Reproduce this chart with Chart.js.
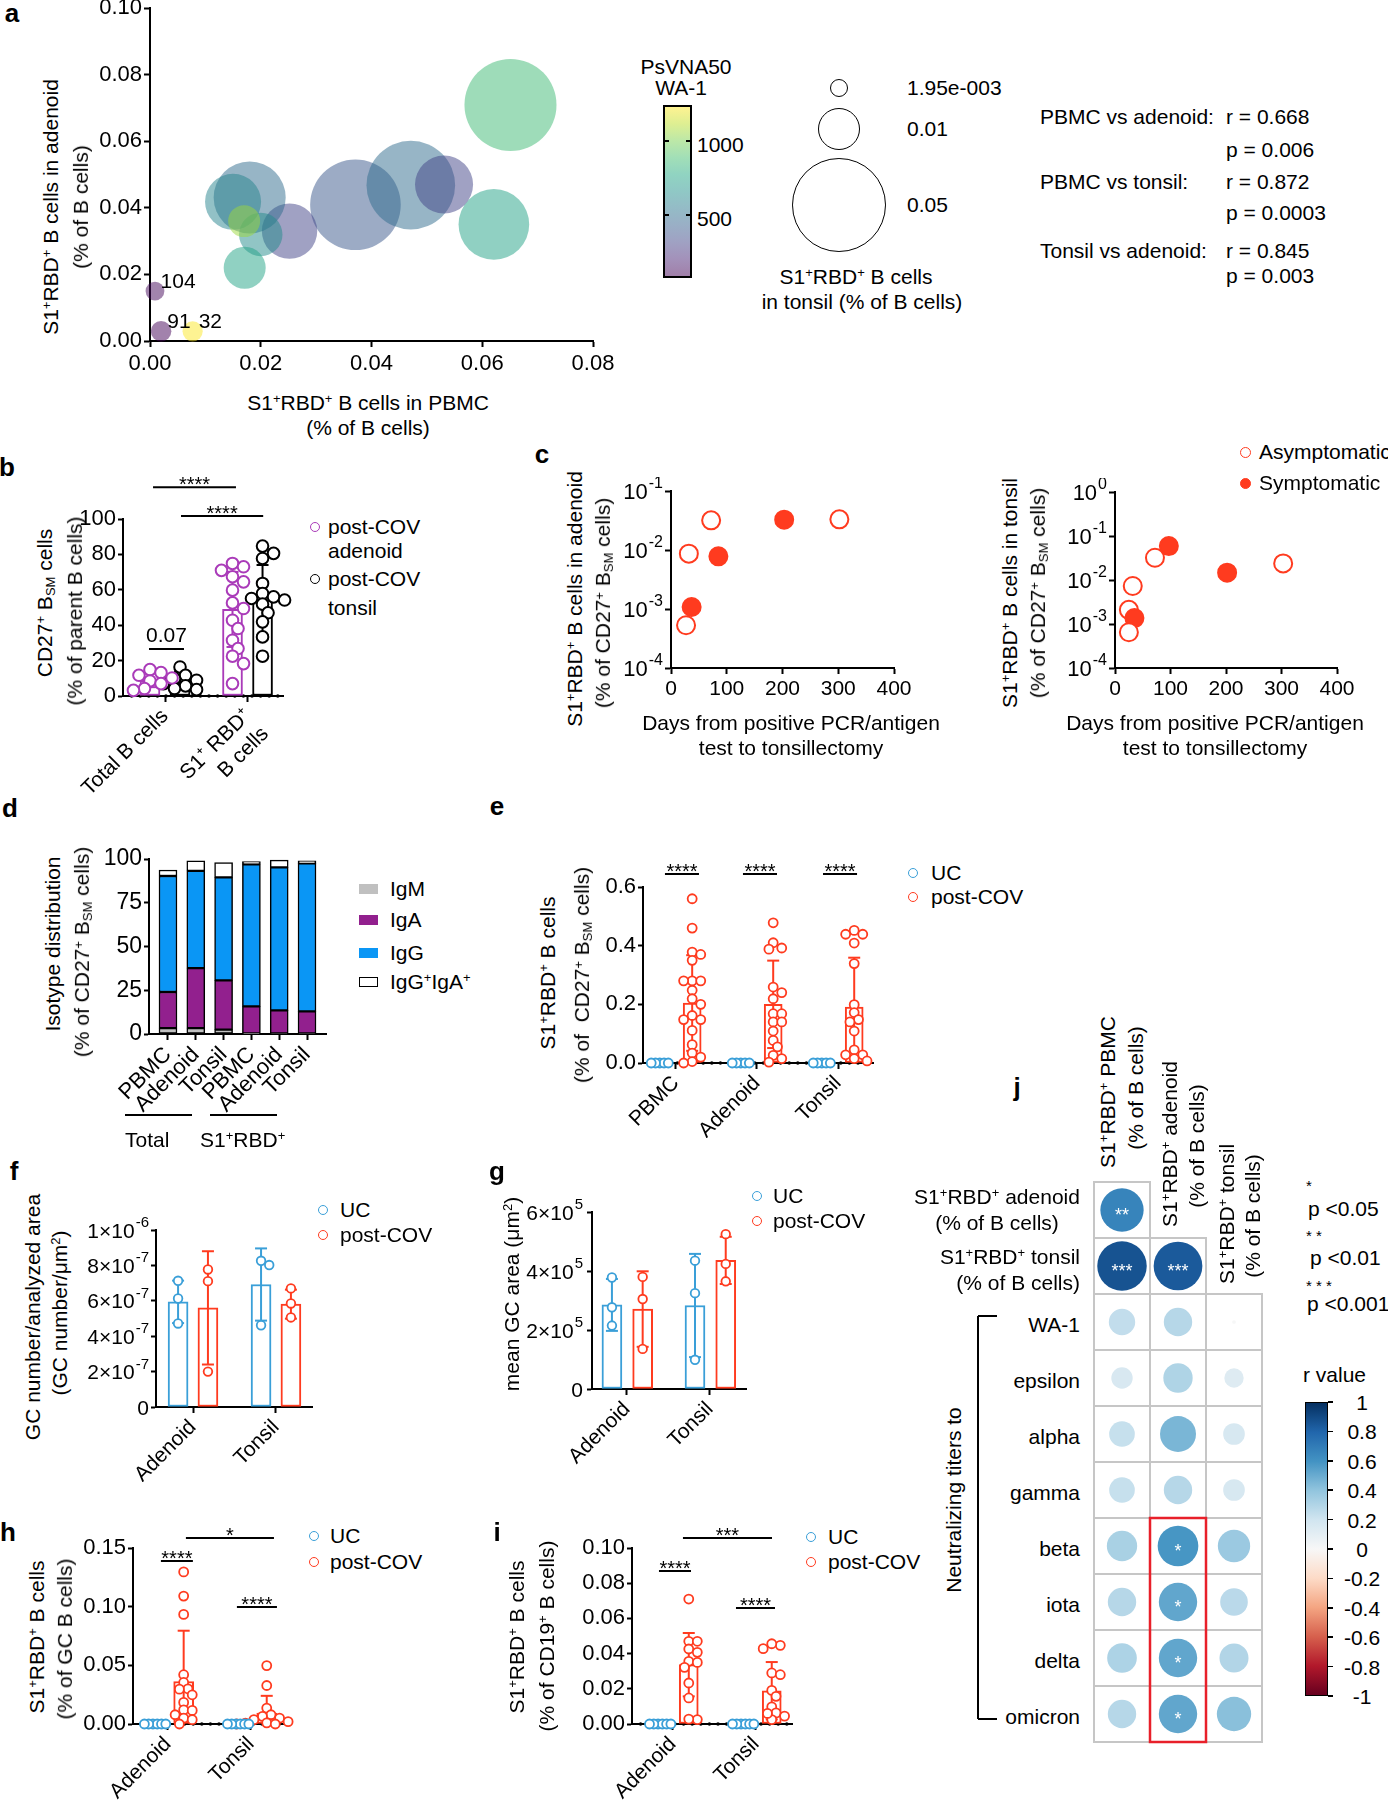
<!DOCTYPE html>
<html><head><meta charset="utf-8"><title>Figure</title>
<script src="https://cdn.jsdelivr.net/npm/chart.js@4.4.1/dist/chart.umd.min.js"></script>
<style>
html,body{margin:0;padding:0;background:#fff;}
#root{position:relative;width:1388px;height:1800px;overflow:hidden;background:#fff;font-family:"Liberation Sans",Arial,Helvetica,sans-serif;color:#000;}
#root canvas{position:absolute;}
.t{position:absolute;white-space:nowrap;line-height:1.15;}
.t sup{font-size:0.62em;vertical-align:0.5em;line-height:0;}
.t sub{font-size:0.62em;vertical-align:-0.25em;line-height:0;}
</style></head>
<body><div id="root"></div>
<script>
// ================= DATA =================
// Panel a
const aPbmc     = [0.0651,0.0621,0.0371,0.0471,0.0531,0.0252,0.0180,0.0150,0.0200,0.0170,0.0171,0.0009,0.0020,0.0077];
const aAdenoid  = [0.0709,0.0350,0.0409,0.0468,0.0470,0.0330,0.0431,0.0418,0.0320,0.0360,0.0220,0.0150,0.0029,0.0029];
const aTonsil   = [0.0480,0.0283,0.0465,0.0445,0.0191,0.0174,0.0294,0.0178,0.0107,0.0058,0.0100,0.0020,0.0024,0.0023];
const aTiterWA1 = [869,740,390,483,308,308,483,600,635,1068,752,104,91,1240];
const aPointLabels = ['','','','','','','','','','','','104','91','32'];
const aTicksX = [0,0.02,0.04,0.06,0.08];
const aTicksY = [0,0.02,0.04,0.06,0.08,0.10];
const aTiterRange = [74,1243];
const aTiterTicks = [500,1000];
const aSizeLegend = [0.00195,0.01,0.05];
const aSizeLegendLabels = ['1.95e-003','0.01','0.05'];
const corrPairs = ['PBMC vs adenoid:','PBMC vs tonsil:','Tonsil vs adenoid:'];
const corrR = ['0.668','0.872','0.845'];
const corrP = ['0.006','0.0003','0.003'];

// Panel b
const bCats = ['Total B cells',['S1\u207A RBD\u207A','B cells']];
const bAdenoidPts = [[14.9,13.2,11.7,10.2,8.5,7.0,4.2,3.2],[74.9,73,71,67.4,64.5,59.8,52.6,49.4,42.8,38.1,31.5,26.8,22.5,18.3,7]];
const bTonsilPts  = [[16.4,11.7,9.8,8.9,7.0,5.7,4.2,3.6],[84.7,80.6,77.7,63.6,57.9,56,55.1,54.2,51.9,47,41.9,33.4,22.5]];
const bAdenoidMean = [8.9,48.9], bAdenoidSD = [3.9,21.2];
const bTonsilMean  = [9.8,54.2], bTonsilSD  = [4.0,19.8];
const bTicksY = [0,20,40,60,80,100];

// Panel c
const cAdDays = [72,32,85,37,27,203,302];
const cAdVal  = [0.0318,0.00867,0.0078,0.00108,0.00053,0.0327,0.0331];
const cAdSym  = [0,0,1,1,0,1,0];
const cToDays = [97,72,303,202,32,25,35,25];
const cToVal  = [0.0589,0.032,0.0238,0.0147,0.0073,0.0021,0.00136,0.00065];
const cToSym  = [1,0,0,1,0,0,1,0];
const cTicksX = [0,100,200,300,400];
const cTicksAd = [1e-4,1e-3,1e-2,1e-1];
const cTicksTo = [1e-4,1e-3,1e-2,1e-1,1];

// Panel d
const dCats = ['PBMC','Adenoid','Tonsil','PBMC','Adenoid','Tonsil'];
const dIgM    = [3.4,3.4,2.5,0.4,0.3,0.3];
const dIgA    = [20.6,34.2,28.1,15.4,13.2,12.6];
const dIgG    = [66.3,55.6,58.9,81.2,81.7,84.6];
const dIgGIgA = [3.4,5.7,8.4,1.5,4.2,1.5];
const dTicksY = [0,25,50,75,100];

// Panel e
const eCats = ['PBMC','Adenoid','Tonsil'];
const eUC  = [[0,0,0,0,0],[0,0,0,0,0],[0,0,0,0,0]];
const eCov = [[0.56,0.46,0.378,0.37,0.35,0.28,0.28,0.28,0.248,0.219,0.2,0.162,0.148,0.148,0.111,0.0625,0.034,0.02,0.005,0.0],
              [0.478,0.41,0.392,0.388,0.259,0.24,0.219,0.168,0.168,0.14,0.14,0.109,0.077,0.055,0.026,0.015,0.003],
              [0.452,0.439,0.439,0.409,0.339,0.199,0.172,0.148,0.14,0.109,0.045,0.028,0.028,0.015,0.007]];
const eCovMean = [0.2045,0.2,0.191], eCovSD = [0.163,0.149,0.168];
const eTicksY = [0,0.2,0.4,0.6];

// Panel f
const fgCats = ['Adenoid','Tonsil'];
const fUC  = [[7.13e-7,6.13e-7,4.72e-7],[8.26e-7,8.02e-7,4.62e-7]];
const fCov = [[7.77e-7,7.11e-7,2.0e-7],[6.7e-7,5.85e-7,5.06e-7]];
const fUCMean = [5.94e-7,6.92e-7], fUCSD = [1.2e-7,2.04e-7];
const fCovMean = [5.6e-7,5.81e-7], fCovSD = [3.2e-7,0.82e-7];
const fTicksY = [0,2e-7,4e-7,6e-7,8e-7,1e-6];

// Panel g
const gUC  = [[3.78e5,2.77e5,2.15e5],[4.35e5,3.25e5,0.99e5]];
const gCov = [[3.8e5,3.05e5,1.36e5],[5.25e5,4.24e5,3.65e5]];
const gUCMean = [2.85e5,2.83e5], gUCSD = [0.88e5,1.75e5];
const gCovMean = [2.71e5,4.36e5], gCovSD = [1.28e5,0.8e5];
const gTicksY = [0,2e5,4e5,6e5];

// Panel h
const hUC  = [[0,0,0,0,0,0],[0,0,0,0,0,0]];
const hCov = [[0.1296,0.109,0.0934,0.042,0.0354,0.03,0.0297,0.0249,0.0184,0.012,0.0116,0.0079,0.005,0.0037,0.0],
              [0.0498,0.0328,0.0136,0.0079,0.0065,0.005,0.0037,0.002,0.001,0.0008,0,0,0]];
const hCovMean = [0.0362,0.0093], hCovSD = [0.0433,0.0147];
const hTicksY = [0,0.05,0.10,0.15];

// Panel i
const iUC  = [[0,0,0,0,0,0],[0,0,0,0,0,0]];
const iCov = [[0.071,0.047,0.047,0.0426,0.0407,0.0356,0.035,0.0322,0.0233,0.0148,0.0025,0.0028],
              [0.0447,0.0456,0.0428,0.029,0.028,0.0191,0.0157,0.0097,0.0063,0.0025,0.0045,0.006]];
const iCovMean = [0.0337,0.0189], iCovSD = [0.018,0.0163];
const iTicksY = [0,0.02,0.04,0.06,0.08,0.10];

// Panel j
const jRowsTop = [['S1<sup>+</sup>RBD<sup>+</sup> adenoid','(% of B cells)'],['S1<sup>+</sup>RBD<sup>+</sup> tonsil','(% of B cells)']];
const jVariants = ['WA-1','epsilon','alpha','gamma','beta','iota','delta','omicron'];
const jCols = ['S1<sup>+</sup>RBD<sup>+</sup> PBMC','S1<sup>+</sup>RBD<sup>+</sup> adenoid','S1<sup>+</sup>RBD<sup>+</sup> tonsil'];
const jPbmc    = [0.668,0.872,0.248,0.163,0.234,0.234,0.328,0.287,0.313,0.287];
const jAdenoid = [null,0.845,0.287,0.307,0.461,0.287,0.589,0.524,0.524,0.524];
const jTonsil  = [null,null,0.005,0.134,0.167,0.167,0.372,0.272,0.300,0.420];
const jStarsPbmc    = ['**','***','','','','','','','',''];
const jStarsAdenoid = ['','***','','','','','*','*','*','*'];
const jStarsTonsil  = ['','','','','','','','','',''];
const jBarTicks = [1,0.8,0.6,0.4,0.2,0,-0.2,-0.4,-0.6,-0.8,-1];

// ================= STYLE / HELPERS =================
const FONT='"Liberation Sans", Arial, Helvetica, sans-serif';
Chart.defaults.font.family=FONT;
Chart.defaults.color='#000';
const RED='#ff3b1f', BLUE='#3a9fd8', PURPLE='#aa3bb9';
const SIZE_K=210;
const root=document.getElementById('root');

const VIR=[[68,1,84],[72,36,117],[65,68,135],[53,95,141],[42,120,142],[33,145,140],[34,168,132],[68,191,112],[122,209,81],[189,223,38],[253,231,37]];
const RDBU=[[103,0,31],[178,24,43],[214,96,77],[244,165,130],[253,219,199],[247,247,247],[209,229,240],[146,197,222],[67,147,195],[33,102,172],[5,48,97]];
function interp(stops,t){t=Math.max(0,Math.min(1,t));const p=t*(stops.length-1),i=Math.min(stops.length-2,Math.floor(p)),f=p-i;return stops[i].map((x,k)=>Math.round(x+(stops[i+1][k]-x)*f));}
function viridis(v,a){const c=interp(VIR,(v-aTiterRange[0])/(aTiterRange[1]-aTiterRange[0]));return 'rgba('+c.join(',')+','+a+')';}
function rdbu(r){return 'rgb('+interp(RDBU,(r+1)/2).join(',')+')';}

function mkCanvas(L,T,R,B,pl,pt,pr,pb){
  const c=document.createElement('canvas');
  const w=Math.round((R-L)+pl+pr), h=Math.round((B-T)+pt+pb);
  c.width=w;c.height=h;c.style.left=(L-pl)+'px';c.style.top=(T-pt)+'px';c.style.width=w+'px';c.style.height=h+'px';
  root.appendChild(c);return c;
}
function zeroPad(s){s.paddingLeft=0;s.paddingRight=0;s.paddingTop=0;s.paddingBottom=0;}
function fitX(h){return s=>{s.height=h;zeroPad(s);};}
function fitY(w){return s=>{s.width=w;zeroPad(s);};}
function axis(o){
  return {type:o.type||'linear',position:o.pos,min:o.min,max:o.max,offset:false,reverse:!!o.reverse,stacked:!!o.stacked,
    afterFit:o.pos==='bottom'?fitX(o.size):fitY(o.size),
    afterBuildTicks:s=>{s.ticks=o.ticks.map(v=>({value:v}));},
    border:{display:true,color:'#000',width:2},
    grid:{display:true,offset:false,drawOnChartArea:false,drawTicks:true,tickLength:o.tl||6,tickColor:'#000',tickWidth:2,color:'#000'},
    ticks:{display:true,autoSkip:false,minRotation:o.rot||0,maxRotation:o.rot||0,padding:(o.pad===undefined?3:o.pad),color:'#000',
      font:{size:o.fs||21,family:FONT},callback:o.fmt||(v=>String(v))}
  };
}
function baseOpts(pad,scales,plugins){
  return {responsive:false,animation:false,events:[],maintainAspectRatio:false,
    layout:{padding:pad,autoPadding:false},
    plugins:Object.assign({legend:{display:false},tooltip:{enabled:false}},plugins||{}),
    scales:scales};
}
function swarm(vals,pxPerVal,r,unitPx,tight){
  const placed=[],offs=vals.map(()=>0);
  const idx=vals.map((v,i)=>i).sort((a,b)=>vals[b]-vals[a]);
  const step=r*0.95,minD=2*r*tight;
  idx.forEach(i=>{
    const y=vals[i]*pxPerVal;
    for(let k=0;k<40;k++){
      const dx=k===0?0:Math.ceil(k/2)*step*(k%2?1:-1);
      if(placed.every(p=>Math.hypot(p.x-dx,p.y-y)>=minD)){offs[i]=dx/unitPx;placed.push({x:dx,y:y});return;}
    }
    placed.push({x:0,y:y});
  });
  return offs;
}

// ---- plugins ----
const errPlugin={id:'err',afterDatasetDraw(chart,args){
  const ds=chart.data.datasets[args.index]; if(!ds.sd) return;
  const ys=chart.scales.y, ctx=chart.ctx; ctx.save(); ctx.strokeStyle=ds.borderColor; ctx.lineWidth=2;
  args.meta.data.forEach((el,i)=>{const m=ds.data[i].y,s=ds.sd[i]; if(!s) return;
    const yt=ys.getPixelForValue(m+s), lo=m-s, yb=ys.getPixelForValue(Math.max(ys.min,lo));
    ctx.beginPath();ctx.moveTo(el.x,yb);ctx.lineTo(el.x,yt);ctx.stroke();
    ctx.beginPath();ctx.moveTo(el.x-6,yt);ctx.lineTo(el.x+6,yt);ctx.stroke();
    if(lo>ys.min){ctx.beginPath();ctx.moveTo(el.x-6,yb);ctx.lineTo(el.x+6,yb);ctx.stroke();}
  }); ctx.restore();}};
const sigPlugin={id:'sig',afterDraw(chart,args,opts){
  if(!opts||!opts.items) return; const ctx=chart.ctx,xs=chart.scales.x,ys=chart.scales.y;
  ctx.save();ctx.strokeStyle='#000';ctx.fillStyle='#000';ctx.lineWidth=2;ctx.textAlign='center';ctx.textBaseline='alphabetic';
  opts.items.forEach(it=>{const x1=xs.getPixelForValue(it.x1),x2=xs.getPixelForValue(it.x2),y=ys.getPixelForValue(it.y);
    ctx.beginPath();ctx.moveTo(x1,y);ctx.lineTo(x2,y);ctx.stroke();
    ctx.font=(it.size||20)+'px '+FONT; ctx.fillText(it.text,(x1+x2)/2,y-(it.gap===undefined?-4:it.gap));});
  ctx.restore();}};
const dotsPlugin={id:'dots',beforeDatasetsDraw(chart,args,opts){
  if(!opts||!opts.on) return; const ctx=chart.ctx,a=chart.chartArea,y=chart.scales.y.getPixelForValue(0);
  ctx.save();ctx.fillStyle='#000';for(let x=a.left+opts.step;x<=a.right+0.5;x+=opts.step){ctx.beginPath();ctx.arc(x,y,1.8,0,7);ctx.fill();}ctx.restore();}};
const supPlugin={id:'sup',afterDraw(chart,args,opts){
  if(!opts||!opts.fmt) return; const ys=chart.scales.y,ctx=chart.ctx,fs=opts.size||21,es=opts.esize||15;
  const xr=chart.chartArea.left-(opts.pad||8); ctx.save();ctx.fillStyle='#000';ctx.textBaseline='alphabetic';ctx.textAlign='left';
  ys.ticks.forEach(t=>{const y=ys.getPixelForValue(t.value);const pr=opts.fmt(t.value);
    ctx.font=es+'px '+FONT;const ew=pr[1]?ctx.measureText(pr[1]).width+1:0;
    ctx.font=fs+'px '+FONT;const bw=ctx.measureText(pr[0]).width;const x0=xr-ew-bw;
    ctx.fillText(pr[0],x0,y+fs*0.36);
    if(pr[1]){ctx.font=es+'px '+FONT;ctx.fillText(pr[1],x0+bw+1,y+fs*0.36-fs*0.5);}});
  ctx.restore();}};
Chart.register(errPlugin,sigPlugin,dotsPlugin,supPlugin);

// ---- HTML helpers ----
function T(x,y,html,o){o=o||{};const d=document.createElement('div');d.className='t';d.innerHTML=html;
  d.style.left=x+'px';d.style.top=y+'px';d.style.fontSize=(o.size||21)+'px';
  if(o.bold) d.style.fontWeight='bold'; if(o.color) d.style.color=o.color;
  const al=o.align||'left';const tx=al==='left'?'0%':(al==='center'?'-50%':'-100%');
  d.style.transform='translate('+tx+',-50%)'+(o.rot?' rotate('+o.rot+'deg)':'');
  root.appendChild(d);return d;}
function box(x,y,w,h,style){const d=document.createElement('div');d.style.cssText='position:absolute;box-sizing:border-box;left:'+x+'px;top:'+y+'px;width:'+w+'px;height:'+h+'px;'+style;root.appendChild(d);return d;}
function circ(cx,cy,r,style){return box(cx-r,cy-r,2*r,2*r,'border-radius:50%;'+style);}
function hline(x1,x2,y,w,c){box(x1,y-w/2,x2-x1,w,'background:'+(c||'#000'));}
function vline(x,y1,y2,w,c){box(x-w/2,y1,w,y2-y1,'background:'+(c||'#000'));}

// ---- generic dot + bar panel ----
function dotBar(o){
  const cv=mkCanvas(o.L,o.T,o.R,o.B,o.pl,o.pt,o.pr,o.pb);
  const unitPx=(o.R-o.L)/(o.xmax-o.xmin), pxPerVal=(o.B-o.T)/(o.ymax-o.ymin);
  const ds=[];
  o.series.forEach(s=>{
    ds.push({type:'bar',data:s.mean.map((m,i)=>({x:i+s.off,y:m})),sd:s.sd,backgroundColor:'#fff',borderColor:s.color,borderWidth:2,
      borderSkipped:false,barThickness:o.bw,grouped:false,order:3,clip:false});
    const pts=[];
    s.points.forEach((arr,i)=>{const offs=swarm(arr,pxPerVal,s.r,unitPx,s.tight||0.8);arr.forEach((v,k)=>pts.push({x:i+s.off+offs[k],y:v}));});
    ds.push({type:'scatter',data:pts,pointRadius:s.r,pointHoverRadius:s.r,pointBorderColor:s.color,pointBackgroundColor:'#fff',
      pointBorderWidth:s.pw||1.8,order:1,clip:false});
  });
  return new Chart(cv,{type:'bar',data:{datasets:ds},options:baseOpts({left:0,top:o.pt,right:o.pr,bottom:0},{
    x:axis({pos:'bottom',min:o.xmin,max:o.xmax,ticks:o.cats.map((c,i)=>i),fmt:v=>o.cats[v],rot:45,size:o.pb,fs:o.xfs||21,pad:(o.xpad===undefined?2:o.xpad)}),
    y:axis({pos:'left',min:o.ymin,max:o.ymax,ticks:o.yticks,fmt:o.sup?(()=>''):(o.yfmt||(v=>String(v))),size:o.pl,fs:o.yfs||22,pad:2,tl:5})
  },{sig:{items:o.sig||[]},dots:{on:!!o.dots,step:8.6},sup:o.sup?{fmt:o.sup,pad:o.supPad||8,size:21,esize:15}:{}})});
}

// ================= PANEL a =================
(function(){
  const ptLabel={id:'ptLabel',afterDatasetsDraw(chart){
    const meta=chart.getDatasetMeta(0),ctx=chart.ctx;ctx.save();ctx.font='21px '+FONT;ctx.fillStyle='#000';ctx.textBaseline='middle';
    aPointLabels.forEach((t,i)=>{if(!t) return;const el=meta.data[i];const r=chart.data.datasets[0].data[i].r;ctx.fillText(t,el.x+r*0.6,el.y-9);});
    ctx.restore();}};
  const L=150,T0=8,R=593,B=341;
  const cv=mkCanvas(L,T0,R,B,72,12,30,40);
  new Chart(cv,{type:'bubble',
    data:{datasets:[{data:aPbmc.map((x,i)=>({x:x,y:aAdenoid[i],r:SIZE_K*Math.sqrt(aTonsil[i])})),
      backgroundColor:aTiterWA1.map(v=>viridis(v,0.5)),borderWidth:0,clip:false}]},
    options:baseOpts({left:0,top:12,right:30,bottom:0},{
      x:axis({pos:'bottom',min:0,max:0.08,ticks:aTicksX,fmt:v=>v.toFixed(2),size:40,pad:4,fs:22}),
      y:axis({pos:'left',min:0,max:0.1,ticks:aTicksY,fmt:v=>v.toFixed(2),size:72,pad:2,fs:22})
    }),plugins:[ptLabel]});
  T(51,207,'S1<sup>+</sup>RBD<sup>+</sup> B cells in adenoid',{align:'center',rot:-90});
  T(81,207,'(% of B cells)',{align:'center',rot:-90});
  T(368,403,'S1<sup>+</sup>RBD<sup>+</sup> B cells in PBMC',{align:'center'});
  T(368,428,'(% of B cells)',{align:'center'});
  // colour legend
  T(686,67,'PsVNA50',{align:'center'}); T(681,88,'WA-1',{align:'center'});
  box(663,105,29,173,'border:2px solid #000;background:linear-gradient(to top,'+VIR.map((c,i)=>'rgba('+c.join(',')+',0.5) '+(i*10)+'%').join(',')+')');
  aTiterTicks.forEach(v=>{const y=278-(v-aTiterRange[0])/(aTiterRange[1]-aTiterRange[0])*173;hline(663,669,y,2);hline(686,692,y,2);T(697,y+4,String(v));});
  // size legend
  const sy=[88,129,205];
  aSizeLegend.forEach((v,i)=>{circ(839,sy[i],SIZE_K*Math.sqrt(v),'border:1.5px solid #000;');T(907,sy[i],aSizeLegendLabels[i]);});
  T(856,277,'S1<sup>+</sup>RBD<sup>+</sup> B cells',{align:'center'});
  T(862,302,'in tonsil (% of B cells)',{align:'center'});
  const cy=[[117,150],[182,213],[251,276]];
  corrPairs.forEach((p,i)=>{T(1040,cy[i][0],p);T(1226,cy[i][0],'r = '+corrR[i]);T(1226,cy[i][1],'p = '+corrP[i]);});
})();

// ================= PANEL b =================
dotBar({L:123,T:519,R:283,B:696,pl:60,pt:55,pr:12,pb:100,xmin:-0.509,xmax:1.43,cats:bCats,ymin:0,ymax:100,yticks:bTicksY,bw:20,dots:true,
  series:[{points:bAdenoidPts,mean:bAdenoidMean,sd:bAdenoidSD,off:-0.182,color:PURPLE,r:5.8,pw:2},
          {points:bTonsilPts,mean:bTonsilMean,sd:bTonsilSD,off:0.182,color:'#000',r:5.8,pw:2}],
  sig:[{x1:-0.145,x2:0.86,y:118,text:'****'},{x1:0.194,x2:1.19,y:101.7,text:'****'},{x1:-0.194,x2:0.23,y:26.6,text:'0.07',size:21,gap:7}]});
T(45,603,'CD27<sup>+</sup> B<sub>SM</sub> cells',{align:'center',rot:-90});
T(75,611,'(% of parent B cells)',{align:'center',rot:-90});
circ(315,527,5,'border:1.5px solid '+PURPLE+';background:#fff'); T(328,527,'post-COV'); T(328,551,'adenoid');
circ(315,579,5,'border:1.5px solid #000;background:#fff'); T(328,579,'post-COV'); T(328,608,'tonsil');

// ================= PANEL c =================
function cChart(L,T0,R,B,days,vals,sym,ymin,ymax,yticks){
  const cv=mkCanvas(L,T0,R,B,75,14,30,45);
  new Chart(cv,{type:'scatter',data:{datasets:[{data:days.map((d,i)=>({x:d,y:vals[i]})),pointRadius:9,pointHoverRadius:9,pointBorderWidth:2,
      pointBorderColor:RED,pointBackgroundColor:sym.map(s=>s?RED:'#fff'),clip:false}]},
    options:baseOpts({left:0,top:14,right:30,bottom:0},{
      x:axis({pos:'bottom',min:0,max:400,ticks:cTicksX,size:45,pad:3}),
      y:axis({pos:'left',type:'logarithmic',min:ymin,max:ymax,ticks:yticks,fmt:()=>'',size:75})
    },{sup:{fmt:v=>['10',String(Math.round(Math.log10(v)))],pad:8,size:22,esize:16}})});
}
cChart(671,491,894,668,cAdDays,cAdVal,cAdSym,1e-4,1e-1,cTicksAd);
cChart(1115,492,1337,668,cToDays,cToVal,cToSym,1e-4,1,cTicksTo);
T(575,599,'S1<sup>+</sup>RBD<sup>+</sup> B cells in adenoid',{align:'center',rot:-90});
T(603,603,'(% of CD27<sup>+</sup> B<sub>SM</sub> cells)',{align:'center',rot:-90});
T(1010,593,'S1<sup>+</sup>RBD<sup>+</sup> B cells in tonsil',{align:'center',rot:-90});
T(1038,593,'(% of CD27<sup>+</sup> B<sub>SM</sub> cells)',{align:'center',rot:-90});
T(791,723,'Days from positive PCR/antigen',{align:'center'}); T(791,748,'test to tonsillectomy',{align:'center'});
T(1215,723,'Days from positive PCR/antigen',{align:'center'}); T(1215,748,'test to tonsillectomy',{align:'center'});
circ(1245,452,5.5,'border:1.5px solid '+RED+';background:#fff'); T(1259,452,'Asymptomatic');
circ(1245,483,5.5,'border:1.5px solid '+RED+';background:'+RED); T(1259,483,'Symptomatic');

// ================= PANEL d =================
(function(){
  const cv=mkCanvas(149,859,326,1034,60,14,10,90);
  const mk=(arr,col)=>({type:'bar',data:arr.map((v,i)=>({x:i,y:v})),backgroundColor:col,borderColor:'#000',borderWidth:1.5,borderSkipped:false,barThickness:18,grouped:false});
  new Chart(cv,{type:'bar',data:{datasets:[mk(dIgM,'#c0c0c0'),mk(dIgA,'#92208e'),mk(dIgG,'#0a96f5'),mk(dIgGIgA,'#fff')]},
    options:baseOpts({left:0,top:14,right:10,bottom:0},{
      x:axis({pos:'bottom',min:-0.683,max:5.683,ticks:dCats.map((c,i)=>i),fmt:v=>dCats[v],rot:45,size:90,fs:22,pad:2}),
      y:axis({pos:'left',min:0,max:100,ticks:dTicksY,size:60,fs:23,pad:2,stacked:true,tl:5})
    })});
  T(53,944,'Isotype distribution',{align:'center',rot:-90});
  T(82,952,'(% of CD27<sup>+</sup> B<sub>SM</sub> cells)',{align:'center',rot:-90});
  const leg=[['IgM','#c0c0c0'],['IgA','#92208e'],['IgG','#0a96f5'],['IgG<sup>+</sup>IgA<sup>+</sup>','#fff']];
  const ly=[889,920,953,982];
  leg.forEach((l,i)=>{box(359,ly[i]-5,19,10,'background:'+l[1]+(l[1]==='#fff'?';border:1.5px solid #000':''));T(390,ly[i],l[0]);});
  hline(125,192,1115,1.5); hline(210,277,1115,1.5);
  T(125,1140,'Total'); T(200,1140,'S1<sup>+</sup>RBD<sup>+</sup>');
})();

// ================= PANEL e =================
dotBar({L:643,T:887,R:873,B:1063,pl:55,pt:35,pr:12,pb:75,xmin:-0.407,xmax:2.432,cats:eCats,ymin:0,ymax:0.6,yticks:eTicksY,yfmt:v=>v.toFixed(1),bw:18,dots:true,
  series:[{points:eUC,mean:[0,0,0],sd:[0,0,0],off:-0.2,color:BLUE,r:4.5,tight:0.45},
          {points:eCov,mean:eCovMean,sd:eCovSD,off:0.2,color:RED,r:4.5}],
  sig:[{x1:-0.136,x2:0.284,y:0.644,text:'****'},{x1:0.827,x2:1.247,y:0.644,text:'****'},{x1:1.815,x2:2.235,y:0.644,text:'****'}]});
T(548,973,'S1<sup>+</sup>RBD<sup>+</sup> B cells',{align:'center',rot:-90});
T(582,975,'(% of&nbsp; CD27<sup>+</sup> B<sub>SM</sub> cells)',{align:'center',rot:-90});
function ucLegend(cx,y1,y2,tx){circ(cx,y1,5,'border:1.5px solid '+BLUE+';background:#fff');T(tx,y1,'UC');circ(cx,y2,5,'border:1.5px solid '+RED+';background:#fff');T(tx,y2,'post-COV');}
ucLegend(913,873,897,931);

// ================= PANEL f =================
dotBar({L:156,T:1230,R:312,B:1407,pl:80,pt:15,pr:12,pb:75,xmin:-0.446,xmax:1.434,cats:fgCats,ymin:0,ymax:1e-6,yticks:fTicksY,bw:20,
  sup:v=>v===0?['0','']:(v>=0.99e-6?[Math.round(v/1e-6)+'\u00D710','-6']:[Math.round(v/1e-7)+'\u00D710','-7']),supPad:7,
  series:[{points:fUC,mean:fUCMean,sd:fUCSD,off:-0.18,color:BLUE,r:4.3},{points:fCov,mean:fCovMean,sd:fCovSD,off:0.18,color:RED,r:4.3}]});
T(33,1317,'GC number/analyzed area',{align:'center',rot:-90});
T(60,1313,'(GC number/\u03BCm<sup>2</sup>)',{align:'center',rot:-90});
ucLegend(323,1210,1235,340);

// ================= PANEL g =================
dotBar({L:592,T:1212,R:746,B:1389,pl:80,pt:15,pr:12,pb:80,xmin:-0.42,xmax:1.434,cats:fgCats,ymin:0,ymax:6e5,yticks:gTicksY,bw:20,
  sup:v=>v===0?['0','']:[Math.round(v/1e5)+'\u00D710','5'],supPad:9,
  series:[{points:gUC,mean:gUCMean,sd:gUCSD,off:-0.18,color:BLUE,r:4.3},{points:gCov,mean:gCovMean,sd:gCovSD,off:0.19,color:RED,r:4.3}]});
T(512,1294,'mean GC area (\u03BCm<sup>2</sup>)',{align:'center',rot:-90});
ucLegend(757,1196,1221,773);

// ================= PANEL h =================
dotBar({L:133,T:1548,R:287,B:1724,pl:75,pt:35,pr:12,pb:76,xmin:-0.42,xmax:1.434,cats:fgCats,ymin:0,ymax:0.15,yticks:hTicksY,yfmt:v=>v.toFixed(2),bw:20,dots:true,
  series:[{points:hUC,mean:[0,0],sd:[0,0],off:-0.18,color:BLUE,r:4.5,tight:0.45},{points:hCov,mean:hCovMean,sd:hCovSD,off:0.19,color:RED,r:4.5}],
  sig:[{x1:0.217,x2:1.277,y:0.1585,text:'*'},{x1:-0.084,x2:0.301,y:0.1389,text:'****'},{x1:0.831,x2:1.313,y:0.0997,text:'****'}]});
T(37,1637,'S1<sup>+</sup>RBD<sup>+</sup> B cells',{align:'center',rot:-90});
T(65,1639,'(% of GC B cells)',{align:'center',rot:-90});
ucLegend(314,1536,1562,330);

// ================= PANEL i =================
dotBar({L:632,T:1548,R:792,B:1724,pl:75,pt:35,pr:12,pb:76,xmin:-0.494,xmax:1.434,cats:fgCats,ymin:0,ymax:0.1,yticks:iTicksY,yfmt:v=>v.toFixed(2),bw:19,dots:true,
  series:[{points:iUC,mean:[0,0],sd:[0,0],off:-0.18,color:BLUE,r:4.5,tight:0.45},{points:iCov,mean:iCovMean,sd:iCovSD,off:0.19,color:RED,r:4.5}],
  sig:[{x1:0.12,x2:1.193,y:0.1057,text:'***'},{x1:-0.169,x2:0.217,y:0.0869,text:'****'},{x1:0.759,x2:1.229,y:0.0659,text:'****'}]});
T(517,1637,'S1<sup>+</sup>RBD<sup>+</sup> B cells',{align:'center',rot:-90});
T(547,1636,'(% of CD19<sup>+</sup> B cells)',{align:'center',rot:-90});
ucLegend(811,1537,1562,828);

// ================= PANEL j =================
(function(){
  const cols=[jPbmc,jAdenoid,jTonsil], stars=[jStarsPbmc,jStarsAdenoid,jStarsTonsil];
  const data=[],colors=[],txt=[];
  cols.forEach((arr,c)=>arr.forEach((v,r)=>{if(v===null) return;data.push({x:c+0.5,y:r+0.5,r:26.5*Math.sqrt(Math.abs(v))});colors.push(rdbu(v));txt.push(stars[c][r]);}));
  const jPlugin={id:'jgrid',
    beforeDatasetsDraw(chart){const xs=chart.scales.x,ys=chart.scales.y,ctx=chart.ctx;ctx.save();ctx.strokeStyle='#c6c6c6';ctx.lineWidth=2;
      cols.forEach((arr,c)=>arr.forEach((v,r)=>{if(v===null) return;const x0=xs.getPixelForValue(c),x1=xs.getPixelForValue(c+1),y0=ys.getPixelForValue(r),y1=ys.getPixelForValue(r+1);ctx.strokeRect(x0,y0,x1-x0,y1-y0);}));
      ctx.restore();},
    afterDatasetsDraw(chart){const meta=chart.getDatasetMeta(0),ctx=chart.ctx,xs=chart.scales.x,ys=chart.scales.y;ctx.save();
      ctx.fillStyle='#fff';ctx.font='18px '+FONT;ctx.textAlign='center';ctx.textBaseline='alphabetic';
      txt.forEach((t,i)=>{if(!t) return;const el=meta.data[i];ctx.fillText(t,el.x,el.y+18*0.62);});
      ctx.strokeStyle='#e8202a';ctx.lineWidth=2.5;const x0=xs.getPixelForValue(1),x1=xs.getPixelForValue(2),y0=ys.getPixelForValue(6),y1=ys.getPixelForValue(10);
      ctx.strokeRect(x0,y0,x1-x0,y1-y0);ctx.restore();}};
  const cv=mkCanvas(1094,1182,1262,1742,4,4,4,4);
  new Chart(cv,{type:'bubble',data:{datasets:[{data:data,backgroundColor:colors,borderWidth:0,clip:false}]},
    options:baseOpts({left:4,top:4,right:4,bottom:4},{x:{type:'linear',display:false,min:0,max:3},y:{type:'linear',display:false,min:0,max:10,reverse:true}}),
    plugins:[jPlugin]});
  const hx=[[1108,1136],[1170,1197],[1227,1253]], hy=[[1092,1088],[1144,1146],[1214,1216]];
  jCols.forEach((c,i)=>{T(hx[i][0],hy[i][0],c,{align:'center',rot:-90});T(hx[i][1],hy[i][1],'(% of B cells)',{align:'center',rot:-90});});
  T(997,1197,jRowsTop[0][0],{align:'center'}); T(997,1223,jRowsTop[0][1],{align:'center'});
  T(1080,1257,jRowsTop[1][0],{align:'right'}); T(1080,1283,jRowsTop[1][1],{align:'right'});
  jVariants.forEach((v,k)=>T(1080,1182+56*(k+2.5)+3,v,{align:'right'}));
  vline(978,1316,1719,1.5); hline(978,997,1316,1.5); hline(978,997,1719,1.5);
  T(954,1500,'Neutralizing titers to',{align:'center',rot:-90});
  T(1306,1186,'*',{size:15}); T(1308,1209,'p &lt;0.05');
  T(1306,1236,'* *',{size:15}); T(1310,1258,'p &lt;0.01');
  T(1306,1286,'* * *',{size:15}); T(1307,1304,'p &lt;0.001');
  T(1303,1375,'r value');
  box(1305,1402,23,294,'border:1px solid #000;background:linear-gradient(to top,'+RDBU.map((c,i)=>'rgb('+c.join(',')+') '+(i*10)+'%').join(',')+')');
  jBarTicks.forEach((v,k)=>{const y=1402+k*29.4;hline(1328,1333,y,1.5);T(1362,y+1,String(v),{align:'center'});});
})();

// ================= panel letters =================
[['a',12,14],['b',7,468],['c',542,455],['d',10,809],['e',497,807],['f',14,1172],['g',497,1172],['h',8,1533],['i',497,1533],['j',1017,1088]]
  .forEach(p=>T(p[1],p[2],p[0],{bold:true,size:26,align:'center'}));
</script>
</body></html>
